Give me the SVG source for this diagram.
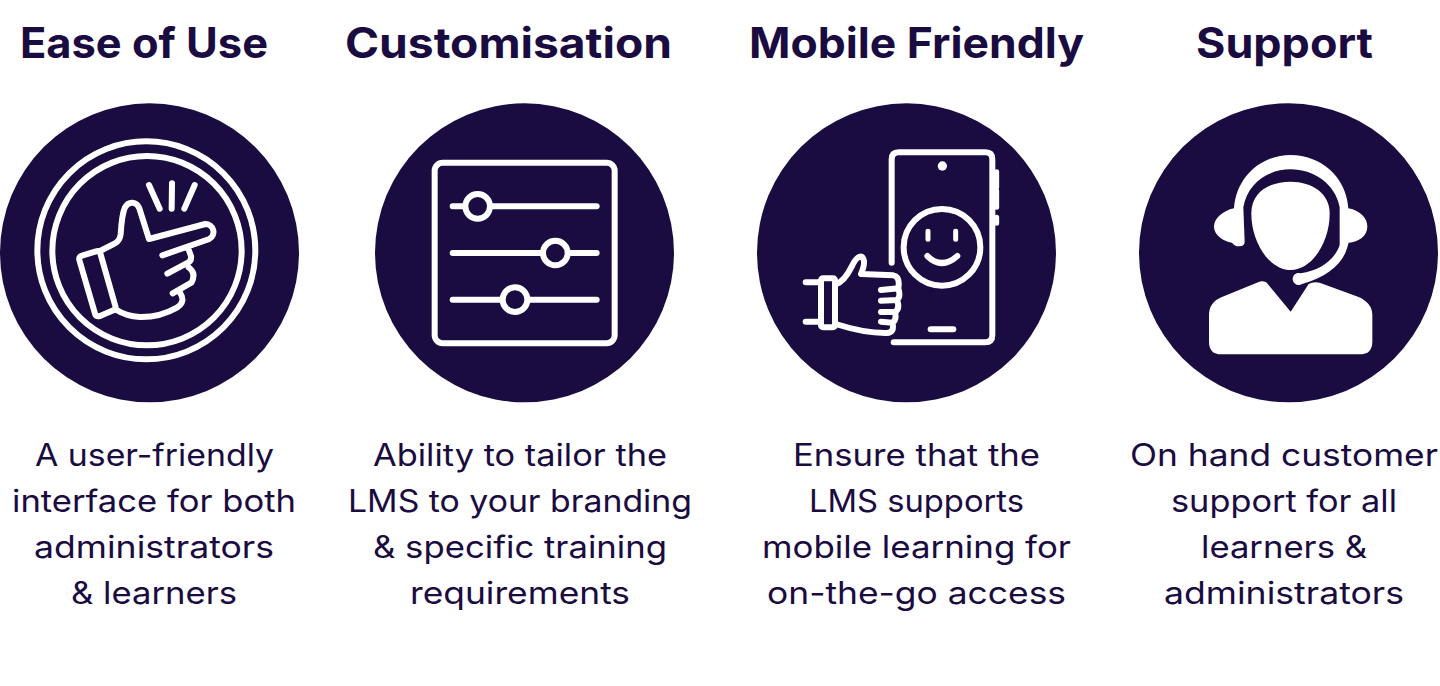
<svg xmlns="http://www.w3.org/2000/svg" width="1440" height="686" viewBox="0 0 1440 686">
<style>
.disc{fill:#1a0b40}
.title{font-family:"Inter","Open Sans",sans-serif;font-weight:700;font-size:42px;fill:#1a0b40}
.body{font-family:"Inter","Open Sans",sans-serif;font-weight:400;font-size:31px;fill:#1a0b40}
.ln{fill:none;stroke:#fff;stroke-width:18;stroke-linecap:round;stroke-linejoin:round}
.solid{fill:#fff}
</style>
<rect width="1440" height="686" fill="#fff"/>
<g id="ease-of-use">
<text class="title" x="20" y="58" textLength="248" lengthAdjust="spacingAndGlyphs">Ease of Use</text>
<circle class="disc" cx="149.5" cy="252.8" r="149.5"/>
<g transform="translate(0 100) scale(.33333)">
<circle class="ln" cx="439" cy="451" r="327"/>
<circle class="ln" cx="441" cy="452" r="284"/>
<path class="ln" d="M238 480Q236 470 246 467L288 454Q298 451 301 460L346 618Q348 628 340 631L300 648Q288 651 285 641Z"/>
<path class="ln" d="M300 453L345 430Q360 422 362 402C364 370 366 342 375 322C386 302 410 304 418 325L447 417L616 372A24 24 0 0 1 628 417L487 466M566 449L573 468Q576 484 558 491L502 521M566 502Q590 520 574 548L518 580M540 578Q558 605 532 622Q480 652 420 651Q380 650 346 628"/>
<path class="ln" d="M447 255L479 326M516 250L515 326M584 255L553 326"/>
</g>
</g>
<g id="customisation">
<text class="title" x="345" y="58" textLength="327" lengthAdjust="spacingAndGlyphs">Customisation</text>
<circle class="disc" cx="524.5" cy="252.8" r="149.5"/>
<g transform="translate(375 100) scale(.33333)">
<rect class="ln" x="179" y="188" width="540" height="542" rx="24"/>
<path class="ln" d="M233 319H665M233 459H665M233 599H665"/>
<circle class="ln" style="fill:#1a0b40" cx="308" cy="319" r="37"/>
<circle class="ln" style="fill:#1a0b40" cx="541" cy="459" r="37"/>
<circle class="ln" style="fill:#1a0b40" cx="420" cy="599" r="37"/>
</g>
</g>
<g id="mobile-friendly">
<text class="title" x="749" y="58" textLength="335" lengthAdjust="spacingAndGlyphs">Mobile Friendly</text>
<circle class="disc" cx="906.5" cy="252.8" r="149.5"/>
<g transform="translate(755 100) scale(.33333)">
<path class="ln" d="M410 488V178Q410 157 431 157H692Q712 157 712 178V705Q712 727 690 727H416"/>
<path class="ln" d="M725 215V262M725 272V322M725 352V370" style="stroke-width:15"/>
<circle class="solid" cx="562" cy="198" r="14"/>
<path class="ln" d="M527 688H595"/>
<circle class="ln" cx="561" cy="442" r="115"/>
<path class="ln" style="stroke-width:15" d="M519 394V418M602 394V418"/>
<path class="ln" d="M517 468Q560 510 607 468"/>
<path class="ln" d="M152 547H198M152 665H198"/>
<rect class="ln" x="198" y="535" width="42" height="147" rx="6"/>
<path class="ln" d="M242 553Q268 545 290 500Q305 468 320 470Q335 482 318 522L415 526Q436 530 430 565L378 570M430 565Q438 590 426 600L378 602M426 600Q436 625 420 636L378 636M420 636Q426 660 412 668L378 665M412 668Q420 698 395 699Q330 700 242 672"/>
</g>
</g>
<g id="support">
<text class="title" x="1196" y="58" textLength="177" lengthAdjust="spacingAndGlyphs">Support</text>
<circle class="disc" cx="1288.5" cy="252.8" r="149.5"/>
<g transform="translate(1138 100) scale(.33333)">
<path class="solid" d="M340 340C340 275 395 245 458 245C522 245 575 280 575 340C575 430 520 510 458 510C395 510 340 430 340 340Z"/>
<path class="solid" d="M288 325C295 230 370 165 458 165C548 165 625 230 631 325C668 332 688 355 688 380C688 408 662 426 632 428L628 442C615 490 570 530 492 552A18 18 0 1 1 488 520C545 512 590 480 605 435L605 322C592 250 525 208 458 208C390 208 328 250 316 322L320 425Q320 438 305 439Q290 440 282 428C255 424 228 405 228 380C228 355 255 332 288 325Z"/>
<path class="solid" d="M362 546Q372 541 385 547L458 635L512 552Q525 544 545 548L660 590Q703 608 703 645V725Q703 763 665 763H250Q213 763 213 725V645Q213 608 250 592Z"/>
</g>
</g>
<g id="descriptions">
<text class="body" x="35" y="466" textLength="239" lengthAdjust="spacingAndGlyphs">A user-friendly</text>
<text class="body" x="12" y="512" textLength="284" lengthAdjust="spacingAndGlyphs">interface for both</text>
<text class="body" x="34" y="558" textLength="240" lengthAdjust="spacingAndGlyphs">administrators</text>
<text class="body" x="71" y="604" textLength="166" lengthAdjust="spacingAndGlyphs">&amp; learners</text>
<text class="body" x="373" y="466" textLength="294" lengthAdjust="spacingAndGlyphs">Ability to tailor the</text>
<text class="body" x="348" y="512" textLength="344" lengthAdjust="spacingAndGlyphs">LMS to your branding</text>
<text class="body" x="373" y="558" textLength="294" lengthAdjust="spacingAndGlyphs">&amp; specific training</text>
<text class="body" x="410" y="604" textLength="220" lengthAdjust="spacingAndGlyphs">requirements</text>
<text class="body" x="793" y="466" textLength="247" lengthAdjust="spacingAndGlyphs">Ensure that the</text>
<text class="body" x="809" y="512" textLength="215" lengthAdjust="spacingAndGlyphs">LMS supports</text>
<text class="body" x="762" y="558" textLength="309" lengthAdjust="spacingAndGlyphs">mobile learning for</text>
<text class="body" x="767" y="604" textLength="299" lengthAdjust="spacingAndGlyphs">on-the-go access</text>
<text class="body" x="1130" y="466" textLength="308" lengthAdjust="spacingAndGlyphs">On hand customer</text>
<text class="body" x="1171" y="512" textLength="226" lengthAdjust="spacingAndGlyphs">support for all</text>
<text class="body" x="1201" y="558" textLength="166" lengthAdjust="spacingAndGlyphs">learners &amp;</text>
<text class="body" x="1164" y="604" textLength="240" lengthAdjust="spacingAndGlyphs">administrators</text>
</g>
</svg>
